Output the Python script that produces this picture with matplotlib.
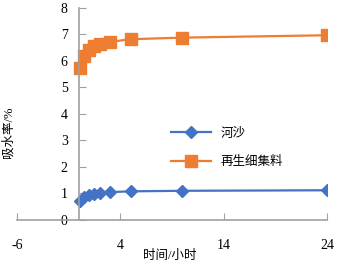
import matplotlib.pyplot as plt
import numpy as np

plt.rcParams['font.family'] = ['Liberation Serif', 'Noto Sans CJK SC']
plt.rcParams['axes.unicode_minus'] = False

hours = [0.1, 0.5, 1, 1.5, 2, 3, 5, 10, 24]
sand = [0.72, 0.85, 0.93, 0.98, 1.02, 1.05, 1.08, 1.10, 1.12]
recycled = [5.75, 6.2, 6.4, 6.55, 6.65, 6.72, 6.82, 6.88, 6.97]

xticks = [-6, 4, 14, 24]
yticks = [0, 1, 2, 3, 4, 5, 6, 7, 8]

fig = plt.figure(figsize=(3.37, 2.65), dpi=100)
ax = fig.add_axes([0.05, 0.17, 0.92, 0.80])

ax.plot(hours, sand, color='#4472C4', lw=1.6, marker='D', ms=6.5, label='河沙')
ax.plot(hours, recycled, color='#ED7D31', lw=1.6, marker='s', ms=8, label='再生细集料')

ax.set_xlim(-6, 24)
ax.set_ylim(0, 8)
ax.set_xticks(xticks)
ax.set_yticks(yticks)

for s in ['top', 'right']:
    ax.spines[s].set_visible(False)
ax.spines['left'].set_position(('data', 0))
ax.spines['bottom'].set_position(('data', 0))
for s in ['left', 'bottom']:
    ax.spines[s].set_color('#A0A0A0')
    ax.spines[s].set_linewidth(1.2)

ax.tick_params(axis='x', direction='in', length=5, color='#A0A0A0', pad=14, labelsize=10)
ax.tick_params(axis='y', direction='in', length=5, color='#A0A0A0', pad=8, labelsize=10)

fig.text(0.505, 0.035, '时间/小时', ha='center', va='center', fontsize=9)
fig.text(0.025, 0.50, '吸水率/%', rotation=90, ha='center', va='center', fontsize=9)

ax.legend(loc='center left', bbox_to_anchor=(0.46, 0.34), frameon=False, fontsize=9,
          handlelength=3.2, labelspacing=1.3)

fig.savefig('out.png', dpi=100)
